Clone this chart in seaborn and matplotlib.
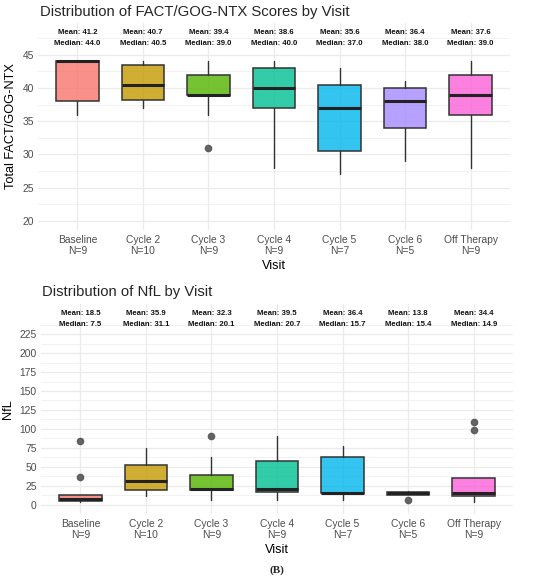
import numpy as np
import matplotlib
matplotlib.use("Agg")
import matplotlib.pyplot as plt
import seaborn as sns

visits = ['Baseline', 'Cycle 2', 'Cycle 3', 'Cycle 4', 'Cycle 5', 'Cycle 6', 'Off Therapy']
n_obs = [9, 10, 9, 9, 7, 5, 9]
colors = ['#F8766D', '#C49A00', '#53B400', '#00C094', '#00B6EB', '#A58AFF', '#FB61D7']

# FACT/GOG-NTX summary
fact_q1 = [38, 38.25, 39, 37, 30.5, 34, 36]
fact_med = [44, 40.5, 39, 40, 37, 38, 39]
fact_q3 = [44, 43.5, 42, 43, 40.5, 40, 42]
fact_lo = [36, 37, 36, 28, 27, 29, 28]
fact_hi = [44, 44, 44, 44, 43, 41, 44]
fact_out = [[], [], [31], [], [], [], []]
fact_mean = [41.2, 40.7, 39.4, 38.6, 35.6, 36.4, 37.6]

# NfL summary
nfl_q1 = [5, 19.5, 19.5, 16, 15, 13, 11]
nfl_med = [7.5, 31.1, 20.1, 20.7, 15.7, 15.4, 14.9]
nfl_q3 = [13, 52.5, 38.5, 57.5, 63, 17, 35]
nfl_lo = [3, 11.5, 6.5, 6.5, 6.5, 13, 3.5]
nfl_hi = [13, 74.5, 62.5, 91, 77, 18.5, 35]
nfl_out = [[36, 84.5], [], [90], [], [], [6.5], [98, 109]]
nfl_mean = [18.5, 35.9, 32.3, 39.5, 36.4, 13.8, 34.4]

sns.set_theme(style='whitegrid')
plt.rcParams['font.family'] = ['Liberation Sans', 'DejaVu Sans']

fig = plt.figure(figsize=(5.5, 5.84), dpi=100)
W, H = 550, 584


def px_axes(l, t, r, b):
    return fig.add_axes([l / W, 1 - b / H, (r - l) / W, (b - t) / H])


def draw_panel(ax, q1, med, q3, lo, hi, out, mean, ylim, yticks, minor, y_mean, y_med, ylabel):
    stats = []
    for i in range(len(visits)):
        stats.append(dict(q1=q1[i], med=med[i], q3=q3[i], whislo=lo[i], whishi=hi[i],
                          fliers=out[i], label=visits[i]))
    bp = ax.bxp(stats, positions=range(len(visits)), widths=0.65, patch_artist=True,
                showcaps=False, manage_ticks=False,
                boxprops=dict(edgecolor='#333333', linewidth=1.1),
                whiskerprops=dict(color='#333333', linewidth=1.0),
                medianprops=dict(color='#222222', linewidth=2.2, solid_capstyle='butt'),
                flierprops=dict(marker='o', markerfacecolor='#555555', markeredgecolor='#555555',
                                markersize=4.5, alpha=0.9))
    for patch, c in zip(bp['boxes'], colors):
        r, g, b_ = matplotlib.colors.to_rgb(c)
        patch.set_facecolor((r, g, b_, 0.8))
    for i in range(len(visits)):
        ax.text(i, y_mean, f'Mean: {mean[i]:.1f}', ha='center', va='center',
                fontsize=5.6, fontweight='bold', color='#111111')
        ax.text(i, y_med, f'Median: {med[i]:.1f}', ha='center', va='center',
                fontsize=5.6, fontweight='bold', color='#111111')
    ax.set_xlim(-0.6, len(visits) - 0.4)
    ax.set_ylim(*ylim)
    ax.set_yticks(yticks)
    ax.set_yticks(minor, minor=True)
    ax.set_xticks(range(len(visits)))
    ax.set_xticklabels([f'{v}\nN={n}' for v, n in zip(visits, n_obs)], linespacing=1.15)
    ax.tick_params(axis='both', which='both', length=0, labelsize=7.4, labelcolor='#4D4D4D', pad=3)
    ax.tick_params(axis='x', pad=3.5)
    ax.set_facecolor('white')
    for s in ax.spines.values():
        s.set_visible(False)
    ax.grid(True, which='major', color='#EBEBEB', linewidth=0.9)
    ax.grid(True, which='minor', axis='y', color='#EBEBEB', linewidth=0.5)
    ax.set_axisbelow(True)
    ax.set_xlabel('Visit', fontsize=9.2, color='black', labelpad=2.5)
    ax.set_ylabel(ylabel, fontsize=9.2, color='black', labelpad=4)


ax1 = px_axes(38, 23, 510, 230)
draw_panel(ax1, fact_q1, fact_med, fact_q3, fact_lo, fact_hi, fact_out, fact_mean,
           (18.6, 49.8), [20, 25, 30, 35, 40, 45], [22.5, 27.5, 32.5, 37.5, 42.5, 47.5],
           48.35, 46.65, 'Total FACT/GOG-NTX')

ax2 = px_axes(41, 304, 513, 514)
draw_panel(ax2, nfl_q1, nfl_med, nfl_q3, nfl_lo, nfl_hi, nfl_out, nfl_mean,
           (-12.5, 265), list(range(0, 226, 25)), list(np.arange(12.5, 250, 25)),
           252.9, 237.4, 'NfL')

fig.text(40 / W, 1 - 12 / H, 'Distribution of FACT/GOG-NTX Scores by Visit',
         fontsize=10.7, ha='left', va='center')
fig.text(42 / W, 1 - 292 / H, 'Distribution of NfL by Visit',
         fontsize=10.7, ha='left', va='center')
fig.text(277 / W, 1 - 570 / H, '(B)', fontsize=8, fontweight='bold',
         family=['Liberation Serif', 'DejaVu Serif'], ha='center', va='center')

fig.savefig('out.png', dpi=100)
